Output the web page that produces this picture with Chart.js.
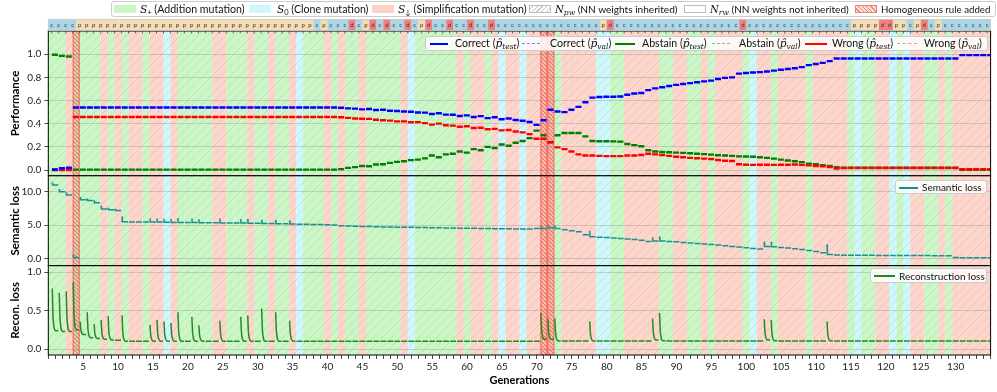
<!DOCTYPE html>
<html><head><meta charset="utf-8">
<script src="https://cdn.jsdelivr.net/npm/chart.js@4.4.1/dist/chart.umd.min.js"></script>
<style>
body{margin:0;background:#fff;width:997px;height:392px;overflow:hidden;position:relative;font-family:Lato,"DejaVu Sans",sans-serif;}
canvas{position:absolute;left:0;top:0;}
.leg{position:absolute;background:rgba(255,255,255,0.82);border:1px solid #ccc;border-radius:3px;box-sizing:border-box;z-index:5;}
.it{position:absolute;white-space:nowrap;font-size:10.6px;color:#111;line-height:12px;z-index:6;}
.m{font-family:"DejaVu Serif","Liberation Serif",serif;font-style:italic;}
sub{font-size:7.5px;vertical-align:-2px;line-height:0;}
.pt{position:absolute;box-sizing:border-box;z-index:6;}
.ln{position:absolute;height:0;z-index:6;}
</style></head>
<body>
<canvas id="c1" width="997" height="392"></canvas>
<canvas id="c2" width="997" height="392"></canvas>
<canvas id="c3" width="997" height="392"></canvas>

<!-- figure legend -->
<div class="leg" style="left:111px;top:1px;width:885px;height:16px"></div>
<div class="pt" style="left:114px;top:4.5px;width:22px;height:8px;background:#c9f6c4"></div>
<div class="it" style="left:140px;top:2.5px"><span class="m">S</span><sub>+</sub> (Addition mutation)</div>
<div class="pt" style="left:249px;top:4.5px;width:22px;height:8px;background:#cdf7fb"></div>
<div class="it" style="left:277px;top:2.5px"><span class="m">S</span><sub>0</sub> (Clone mutation)</div>
<div class="pt" style="left:372px;top:4.5px;width:22px;height:8px;background:#fdd3c8"></div>
<div class="it" style="left:398px;top:2.5px"><span class="m">S</span><sub>&#8595;</sub> (Simplification mutation)</div>
<div class="pt" style="left:529px;top:4.5px;width:22px;height:8px;border:1px solid #bbb;background:repeating-linear-gradient(-45deg,#fff 0 2.5px,#c4c4c4 2.5px 3.3px)"></div>
<div class="it" style="left:555px;top:2.5px;font-size:10.1px"><span class="m">N</span><sub class="m">pw</sub> (NN weights inherited)</div>
<div class="pt" style="left:684px;top:4.5px;width:22px;height:8px;border:1px solid #bbb;background:#fff"></div>
<div class="it" style="left:710px;top:2.5px;font-size:10.1px"><span class="m">N</span><sub class="m">rw</sub> (NN weights not inherited)</div>
<div class="pt" style="left:855px;top:4.5px;width:22px;height:8px;border:1px solid #f08070;background:repeating-linear-gradient(45deg,#fde0da 0 2px,#f08070 2px 3px)"></div>
<div class="it" style="left:881px;top:2.5px;font-size:9.7px">Homogeneous rule added</div>

<!-- performance legend -->
<div class="leg" style="left:425px;top:36px;width:563px;height:15px"></div>
<div class="ln" style="left:430px;top:42.5px;width:18px;border-top:2px solid #0000ff"></div>
<div class="it" style="left:455px;top:37px">Correct (<span class="m">p&#770;<sub>test</sub></span>)</div>
<div class="ln" style="left:522px;top:43px;width:18px;border-top:1.5px dashed #8080ff"></div>
<div class="it" style="left:550px;top:37px">Correct (<span class="m">p&#770;<sub>val</sub></span>)</div>
<div class="ln" style="left:615px;top:42.5px;width:20px;border-top:2px solid #008000"></div>
<div class="it" style="left:642px;top:37px">Abstain (<span class="m">p&#770;<sub>test</sub></span>)</div>
<div class="ln" style="left:712px;top:43px;width:18px;border-top:1.5px dashed #7fc07f"></div>
<div class="it" style="left:739px;top:37px">Abstain (<span class="m">p&#770;<sub>val</sub></span>)</div>
<div class="ln" style="left:805px;top:42.5px;width:22px;border-top:2px solid #ff0000"></div>
<div class="it" style="left:832px;top:37px">Wrong (<span class="m">p&#770;<sub>test</sub></span>)</div>
<div class="ln" style="left:897px;top:43px;width:20px;border-top:1.5px dashed #ff8c8c"></div>
<div class="it" style="left:924px;top:37px">Wrong (<span class="m">p&#770;<sub>val</sub></span>)</div>

<!-- semantic legend -->
<div class="leg" style="left:895px;top:180px;width:92px;height:14px"></div>
<div class="ln" style="left:899px;top:186.5px;width:19px;border-top:2px solid #17918f"></div>
<div class="it" style="left:922px;top:181px;font-size:10px">Semantic loss</div>

<!-- recon legend -->
<div class="leg" style="left:870px;top:268px;width:117px;height:15px"></div>
<div class="ln" style="left:874px;top:275px;width:21px;border-top:2px solid #228b22"></div>
<div class="it" style="left:899px;top:269.5px;font-size:10px">Reconstruction loss</div>

<script>
// ---------------- DATA ----------------
const xTickLabels = [5,10,15,20,25,30,35,40,45,50,55,60,65,70,75,80,85,90,95,100,105,110,115,120,125,130];
const perfTicks = [0.0,0.2,0.4,0.6,0.8,1.0];
const semTicks = [0.0,5.0,10.0];
const reconTicks = [0.0,0.5,1.0];

// performance per generation (gen 1..135)
const correctTest = [
 .005,.015,.02,.54,.54,.54,.54,.54,.54,.54,
 .54,.54,.54,.54,.54,.54,.54,.54,.54,.54,
 .54,.54,.54,.54,.54,.54,.54,.54,.54,.54,
 .54,.54,.54,.54,.54,.54,.54,.54,.54,.54,
 .54,.537,.532,.530,.523,.527,.518,.520,.512,.510,
 .505,.503,.497,.495,.483,.490,.478,.477,.466,.472,
 .458,.465,.448,.455,.438,.445,.432,.425,.415,.390,
 .430,.520,.505,.500,.520,.545,.585,.625,.630,.632,
 .633,.635,.650,.660,.665,.690,.705,.715,.725,.735,
 .742,.750,.758,.765,.772,.785,.795,.800,.832,.838,
 .842,.845,.850,.858,.865,.872,.878,.888,.905,.915,
 .925,.940,.962,.963,.963,.963,.963,.963,.963,.963,
 .963,.963,.963,.963,.963,.963,.963,.963,.963,.963,
 .992,.992,.992,.992,.992];
const abstainTest = [
 .995,.985,.98,.003,.003,.003,.003,.003,.003,.003,
 .003,.003,.003,.003,.003,.003,.003,.003,.003,.003,
 .003,.003,.003,.003,.003,.003,.003,.003,.003,.003,
 .003,.003,.003,.003,.003,.003,.003,.003,.003,.003,
 .003,.008,.018,.025,.035,.032,.048,.050,.062,.070,
 .075,.085,.090,.100,.125,.110,.135,.140,.160,.150,
 .180,.170,.200,.190,.220,.210,.235,.250,.275,.340,
 .300,.240,.300,.320,.320,.320,.290,.250,.248,.248,
 .247,.245,.225,.215,.205,.170,.160,.155,.153,.150,
 .148,.145,.140,.137,.133,.128,.125,.122,.118,.116,
 .114,.110,.105,.098,.090,.082,.075,.068,.055,.050,
 .042,.035,.025,.020,.020,.020,.020,.020,.020,.020,
 .020,.020,.020,.020,.020,.020,.020,.020,.020,.020,
 .002,.002,.002,.002,.002];
const wrongTest = [
 0,0,0,.457,.457,.457,.457,.457,.457,.457,
 .457,.457,.457,.457,.457,.457,.457,.457,.457,.457,
 .457,.457,.457,.457,.457,.457,.457,.457,.457,.457,
 .457,.457,.457,.457,.457,.457,.457,.457,.457,.457,
 .457,.455,.450,.445,.442,.441,.434,.430,.426,.420,
 .420,.412,.413,.405,.392,.400,.387,.383,.374,.378,
 .362,.365,.352,.355,.342,.345,.333,.325,.310,.270,
 .270,.240,.195,.180,.160,.135,.125,.125,.122,.120,
 .120,.120,.125,.125,.130,.140,.135,.130,.122,.115,
 .110,.105,.102,.098,.095,.087,.080,.078,.050,.046,
 .044,.045,.045,.044,.045,.046,.047,.044,.040,.035,
 .033,.025,.013,.017,.017,.017,.017,.017,.017,.017,
 .017,.017,.017,.017,.017,.017,.017,.017,.017,.017,
 .006,.006,.006,.006,.006];
// validation curves sit on top of the test curves in the reference
const correctVal = correctTest, abstainVal = abstainTest, wrongVal = wrongTest;

// semantic loss: level reached in each generation + hook tops
const semLevel = [
 11.0,10.0,9.5,0.15,8.8,8.7,8.35,7.4,7.3,7.2,
 5.5,5.48,5.46,5.45,5.45,5.45,5.42,5.4,5.4,5.4,
 5.38,5.36,5.35,5.34,5.33,5.32,5.31,5.3,5.28,5.27,
 5.25,5.24,5.2,5.19,5.15,5.14,5.12,5.1,5.08,5.06,
 5.0,4.9,4.86,4.83,4.8,4.77,4.75,4.73,4.71,4.69,
 4.68,4.66,4.64,4.62,4.61,4.59,4.57,4.56,4.54,4.52,
 4.51,4.49,4.48,4.46,4.44,4.43,4.42,4.42,4.42,4.5,
 4.5,4.6,4.5,4.3,4.15,4.0,3.55,3.25,3.18,3.12,
 3.05,2.98,2.9,2.82,2.72,2.55,2.6,2.62,2.55,2.48,
 2.4,2.32,2.25,2.17,2.08,2.0,1.9,1.8,1.7,1.6,
 1.5,1.4,1.8,1.75,1.65,1.55,1.45,1.32,1.2,1.05,
 0.85,0.6,0.5,0.48,0.47,0.47,0.46,0.46,0.45,0.45,
 0.44,0.44,0.43,0.43,0.42,0.42,0.41,0.41,0.38,0.12,
 0.11,0.1,0.1,0.09,0.09];
const semHookGens = [1,2,3,4,5,6,7,8,9,10,11,15,16,17,18,19,21,22,25,28,29,31,33,35,71,72,73,78,87,88,103,104,112];
const semHookTop  = [11.4,10.4,9.9,0.6,9.2,9.0,8.7,7.9,7.6,7.45,6.3,6.0,6.0,5.95,5.95,6.05,6.0,5.9,6.0,5.9,5.9,5.8,5.75,5.7,4.85,4.95,4.95,4.1,3.15,3.3,2.5,2.5,2.1];

// reconstruction loss: level per generation + spikes
const reconLevel = [
 .24,.23,.23,.25,.19,.15,.14,.13,.12,.115,
 .105,.105,.105,.105,.105,.105,.105,.105,.105,.105,
 .105,.105,.105,.105,.105,.105,.105,.105,.105,.105,
 .105,.105,.105,.105,.105,.105,.105,.105,.105,.105,
 .105,.105,.105,.105,.105,.105,.105,.105,.105,.105,
 .105,.105,.105,.105,.105,.105,.105,.105,.105,.105,
 .105,.105,.105,.105,.105,.105,.105,.105,.105,.105,
 .13,.13,.108,.108,.108,.108,.108,.108,.108,.108,
 .108,.108,.108,.108,.108,.108,.12,.11,.108,.108,
 .108,.108,.108,.108,.108,.108,.108,.108,.108,.108,
 .108,.108,.12,.11,.108,.108,.108,.108,.108,.108,
 .108,.108,.108,.108,.108,.108,.108,.108,.108,.108,
 .108,.108,.108,.108,.108,.108,.108,.108,.108,.108,
 .108,.108,.108,.108,.108];
const reconSpikeGens = [1,2,3,4,5,6,7,8,9,11,15,16,17,18,19,21,22,25,28,29,31,33,35,71,72,73,78,87,88,103,104,112];
const reconSpikePeak = [.79,.73,.75,.87,.36,.48,.33,.38,.43,.44,.315,.38,.36,.34,.48,.42,.31,.37,.42,.44,.53,.48,.37,.47,.40,.40,.36,.40,.47,.39,.38,.36];
const reconSpikeKnee = [.40,.38,.39,.44,.24,.25,.19,.20,.21,.20,.17,.19,.18,.18,.22,.20,.17,.19,.20,.20,.23,.22,.19,.24,.22,.20,.18,.21,.22,.21,.19,.18];

// mutation type of each generation band (g = S+, c = S0, r = S-down), generations 0..135
const bandTypes = ("gggrggggrg"+"rgrrgrrcrg"+"ggggrrgggr"+"ggrggrcggg"+"rgrggrgggg"+
  "grcggggggr"+"grrgrcrrcr"+"rrrgrrrrrc"+"cggrrrrrgg"+"rrggrgrrrr"+"gcrrgrrrrg"+
  "rrrrrgcggr"+"rcgcrrggrg"+"rrrrrr").split("");
const homogeneousGens = [4,71,72];
// top strip state per generation (b = blue, t = tan, r = red), generations 1..135
const stripTypes = ("bbbbtttttt"+"tttttttttt"+"tttttttttt"+"ttttttttbt"+"bbbrbtrbrb"+
  "brbtrbbrbb"+"rbbrbbbbbb"+"bbbbbbbbbt"+"rbbbbbbbbb"+"bbbbbbbbbr"+"bbbbbbbbbb"+
  "bbbbbttttr"+"rttbtrbtbb"+"bbbbb").split("");

// ---------------- STYLE ----------------
const FONT = 'Lato, "DejaVu Sans", sans-serif';
Chart.defaults.font.family = FONT;
const bandColors = {g:'#cbf7c6', c:'#cdf8fc', r:'#fdd5ca'};
const stripColors = {b:'#a9d5e4', t:'#f3dcb2', r:'#ee7f7f'};
const stripLetters = {b:'c', t:'p', r:'d'};

function makePattern(color, size, dir, lw, bg) {
  const c = document.createElement('canvas'); c.width = c.height = size;
  const x = c.getContext('2d');
  if (bg) { x.fillStyle = bg; x.fillRect(0,0,size,size); }
  x.strokeStyle = color; x.lineWidth = lw; x.beginPath();
  for (const o of [-size, 0, size]) {
    if (dir > 0) { x.moveTo(o, size); x.lineTo(o + size, 0); }
    else { x.moveTo(o, 0); x.lineTo(o + size, size); }
  }
  x.stroke();
  return x.createPattern(c, 'repeat');
}
let npwHatch = null, homoHatch = null;

const bandsPlugin = {
  id: 'bands',
  beforeDraw(chart) {
    const {ctx, chartArea: a, scales: {x}} = chart;
    if (!npwHatch) {
      npwHatch = makePattern('rgba(140,140,140,0.26)', 9, 1, 0.8);
      homoHatch = makePattern('rgba(238,95,80,0.85)', 4, -1, 1.1);
    }
    ctx.save();
    ctx.beginPath(); ctx.rect(a.left, a.top, a.width, a.height); ctx.clip();
    bandTypes.forEach((t, j) => {
      const l = x.getPixelForValue(j - 0.5), r = x.getPixelForValue(j + 0.5);
      ctx.fillStyle = bandColors[t];
      ctx.fillRect(l, a.top, r - l + 0.3, a.height);
    });
    ctx.fillStyle = npwHatch;
    ctx.fillRect(a.left, a.top, a.width, a.height);
    homogeneousGens.forEach(g => {
      const l = x.getPixelForValue(g - 0.5), r = x.getPixelForValue(g + 0.5);
      ctx.fillStyle = 'rgba(255,150,135,0.28)';
      ctx.fillRect(l, a.top, r - l, a.height);
      ctx.fillStyle = homoHatch;
      ctx.fillRect(l, a.top, r - l, a.height);
      ctx.strokeStyle = 'rgba(238,100,90,0.9)'; ctx.lineWidth = 1;
      ctx.beginPath();
      ctx.moveTo(l + 0.5, a.top); ctx.lineTo(l + 0.5, a.bottom);
      ctx.moveTo(r - 0.5, a.top); ctx.lineTo(r - 0.5, a.bottom);
      ctx.stroke();
    });
    ctx.restore();
  },
  afterDraw(chart) {
    const {ctx, chartArea: a} = chart;
    ctx.save();
    ctx.strokeStyle = '#000'; ctx.lineWidth = 1;
    ctx.strokeRect(a.left, a.top, a.width, a.height);
    ctx.restore();
  }
};

const stripPlugin = {
  id: 'strip',
  afterDraw(chart) {
    const {ctx, chartArea: a, scales: {x}} = chart;
    const top = 19.3, h = 11.2;
    ctx.save();
    stripTypes.forEach((t, i) => {
      const l = x.getPixelForValue(i), r = x.getPixelForValue(i + 1);
      ctx.fillStyle = stripColors[t];
      ctx.fillRect(l, top, r - l + 0.3, h);
      ctx.fillStyle = '#333';
      ctx.font = '6px ' + FONT;
      ctx.textAlign = 'center'; ctx.textBaseline = 'middle';
      ctx.fillText(stripLetters[t], (l + r) / 2, top + 5.5);
    });
    ctx.strokeStyle = '#c8c8c8'; ctx.lineWidth = 0.8;
    ctx.strokeRect(x.getPixelForValue(0), top, x.getPixelForValue(135) - x.getPixelForValue(0), h);
    // small tick marks under the strip, inside the performance panel
    ctx.strokeStyle = '#333'; ctx.lineWidth = 0.7;
    ctx.beginPath();
    stripTypes.forEach((t, i) => {
      const cx = x.getPixelForValue(i + 0.5);
      ctx.moveTo(cx, a.top); ctx.lineTo(cx, a.top + 2.5);
    });
    ctx.stroke();
    ctx.restore();
  }
};

// ---------------- DATA TABLES FOR CHART.JS ----------------
function perfPoints(arr) {
  const pts = [];
  arr.forEach((v, i) => {
    const g = i + 1;
    pts.push({x: g - 0.48, y: v}, {x: g + 0.38, y: v}, {x: g + 0.45, y: null});
  });
  return pts;
}
function semPoints() {
  const pts = [];
  semLevel.forEach((v, i) => {
    const g = i + 1, h = semHookGens.indexOf(g);
    if (h >= 0) pts.push({x: g - 0.43, y: semHookTop[h]}, {x: g - 0.39, y: v});
    else pts.push({x: g - 0.43, y: v});
    pts.push({x: g + 0.42, y: v}, {x: g + 0.46, y: null});
  });
  return pts;
}
function reconPoints() {
  const pts = [];
  reconLevel.forEach((v, i) => {
    const g = i + 1, s = reconSpikeGens.indexOf(g);
    if (s >= 0) pts.push({x: g - 0.43, y: reconSpikePeak[s]}, {x: g - 0.31, y: reconSpikeKnee[s]}, {x: g + 0.08, y: v});
    else pts.push({x: g - 0.43, y: v});
    pts.push({x: g + 0.42, y: v}, {x: g + 0.46, y: null});
  });
  return pts;
}

// ---------------- SCALES ----------------
const xTickPositions = [];
for (let t = 0; t <= 135; t++) xTickPositions.push(t);

function xScale(visible) {
  const s = {
    type: 'linear', min: 0, max: 135, display: visible,
    afterBuildTicks: sc => { sc.ticks = xTickPositions.map(v => ({value: v})); },
    ticks: {autoSkip: false, maxRotation: 0, minRotation: 0, padding: 2, color: '#222',
      font: {size: 10}, callback: v => xTickLabels.includes(v) ? String(v) : ''},
    grid: {drawOnChartArea: false, tickLength: 4, tickColor: '#222', tickWidth: 0.8},
    border: {display: false},
    title: {display: visible, text: 'Generations', color: '#000',
      font: {size: 11, weight: 'bold'}, padding: {top: 0, bottom: 5}}
  };
  if (visible) s.afterFit = sc => { sc.height = 37; };
  return s;
}
function yScale(min, max, ticks, title, dec) {
  return {
    type: 'linear', min, max,
    afterFit: sc => { sc.width = 48.3; },
    afterBuildTicks: sc => { sc.ticks = ticks.map(v => ({value: v})); },
    ticks: {color: '#222', font: {size: 10}, padding: 3, callback: v => v.toFixed(dec)},
    grid: {color: 'rgba(110,110,110,0.32)', lineWidth: 0.8, tickLength: 4, tickColor: '#222', tickWidth: 0.8},
    border: {display: false},
    title: {display: true, text: title, color: '#000', font: {size: 11.5, weight: 'bold'}, padding: {top: 8, bottom: 0}}
  };
}
function baseOptions(padTop, padBottom, y, xVisible) {
  return {
    responsive: false, animation: false, devicePixelRatio: 1, events: [],
    layout: {padding: {left: 0, right: 6.4, top: padTop, bottom: padBottom}},
    plugins: {legend: {display: false}, tooltip: {enabled: false}},
    scales: {x: xScale(xVisible), y},
    elements: {point: {radius: 0}, line: {borderCapStyle: 'butt'}}
  };
}
function ds(label, data, color, width, dash, order) {
  return {label, data, borderColor: color, borderWidth: width, borderDash: dash || [],
    pointRadius: 0, fill: false, spanGaps: false, tension: 0, order};
}

// ---------------- CHARTS ----------------
new Chart(document.getElementById('c1'), {
  type: 'line',
  data: {datasets: [
    ds('Correct (test)', perfPoints(correctTest), '#0000ff', 2.4, null, 1),
    ds('Wrong (test)', perfPoints(wrongTest), '#ff0000', 2.4, null, 2),
    ds('Abstain (test)', perfPoints(abstainTest), '#008000', 2.4, null, 3),
    ds('Correct (val)', perfPoints(correctVal), '#8080ff', 1.2, [3, 2], 4),
    ds('Abstain (val)', perfPoints(abstainVal), '#7fc07f', 1.2, [3, 2], 5),
    ds('Wrong (val)', perfPoints(wrongVal), '#ff8c8c', 1.2, [3, 2], 6)
  ]},
  options: baseOptions(31, 392 - 175.8, yScale(-0.05, 1.2, perfTicks, 'Performance', 1), false),
  plugins: [bandsPlugin, stripPlugin]
});

new Chart(document.getElementById('c2'), {
  type: 'line',
  data: {datasets: [ds('Semantic loss', semPoints(), '#17918f', 1.5, null, 1)]},
  options: baseOptions(175.8, 392 - 265.7, yScale(-1.1, 12.4, semTicks, 'Semantic loss', 1), false),
  plugins: [bandsPlugin]
});

const rc = ds('Reconstruction loss', reconPoints(), '#228b22', 1.5, null, 1);
rc.cubicInterpolationMode = 'monotone';
new Chart(document.getElementById('c3'), {
  type: 'line',
  data: {datasets: [rc]},
  options: baseOptions(265.7, 0, yScale(-0.075, 1.085, reconTicks, 'Recon. loss', 1), true),
  plugins: [bandsPlugin]
});
</script>
</body></html>
